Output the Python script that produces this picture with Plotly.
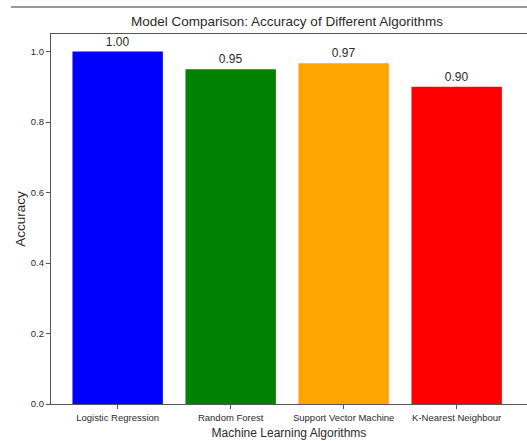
import plotly.graph_objects as go

algorithms = ["Logistic Regression", "Random Forest", "Support Vector Machine", "K-Nearest Neighbour"]
accuracy = [1.00, 0.95, 0.9667, 0.90]
colors = ["blue", "green", "orange", "red"]
labels = ["%.2f" % v for v in accuracy]
y_ticks = [0.0, 0.2, 0.4, 0.6, 0.8, 1.0]

FONT = "Liberation Sans, DejaVu Sans, sans-serif"
TXT = "#2a2a2a"

fig = go.Figure()
fig.add_trace(go.Bar(
    x=list(range(len(algorithms))), y=accuracy, width=0.8,
    marker=dict(color=colors, line=dict(width=0)),
    text=labels, textposition="outside", cliponaxis=False,
    textfont=dict(family=FONT, size=12, color=TXT),
))

fig.update_layout(
    width=527, height=441,
    margin=dict(l=51, r=0, t=34, b=37),
    paper_bgcolor="white", plot_bgcolor="white",
    showlegend=False,
    font=dict(family=FONT, color=TXT),
    title=dict(text="Model Comparison: Accuracy of Different Algorithms",
               x=287 / 527, xanchor="center", y=1 - 21 / 441, yanchor="middle",
               font=dict(family=FONT, size=13.5, color=TXT)),
    shapes=[dict(type="line", xref="paper", yref="paper",
                 x0=-40 / 476, x1=1.0, y0=1 + 27 / 370, y1=1 + 27 / 370,
                 line=dict(color="#777777", width=1.5))],
)
fig.update_xaxes(
    range=[-0.59, -0.59 + 476 / 113],
    tickvals=list(range(len(algorithms))), ticktext=algorithms,
    ticks="outside", ticklen=4, tickcolor="#555555",
    tickfont=dict(family=FONT, size=9.5, color=TXT),
    showline=True, linecolor="#555555", linewidth=1.2, mirror=True,
    showgrid=False, zeroline=False, automargin=False,
    title=dict(text="Machine Learning Algorithms", standoff=7,
               font=dict(family=FONT, size=12, color=TXT)),
)
fig.update_yaxes(
    range=[0, 1.05],
    tickvals=y_ticks, ticktext=["%.1f" % v for v in y_ticks],
    ticks="outside", ticklen=4, tickcolor="#555555",
    tickfont=dict(family=FONT, size=9.5, color=TXT),
    showline=True, linecolor="#555555", linewidth=1.2,
    showgrid=False, zeroline=False, automargin=False,
    title=dict(text="Accuracy", standoff=2,
               font=dict(family=FONT, size=13.5, color=TXT)),
)

fig.write_html("out.html", config={"displayModeBar": False},
               post_script="document.body.style.margin='0';")
